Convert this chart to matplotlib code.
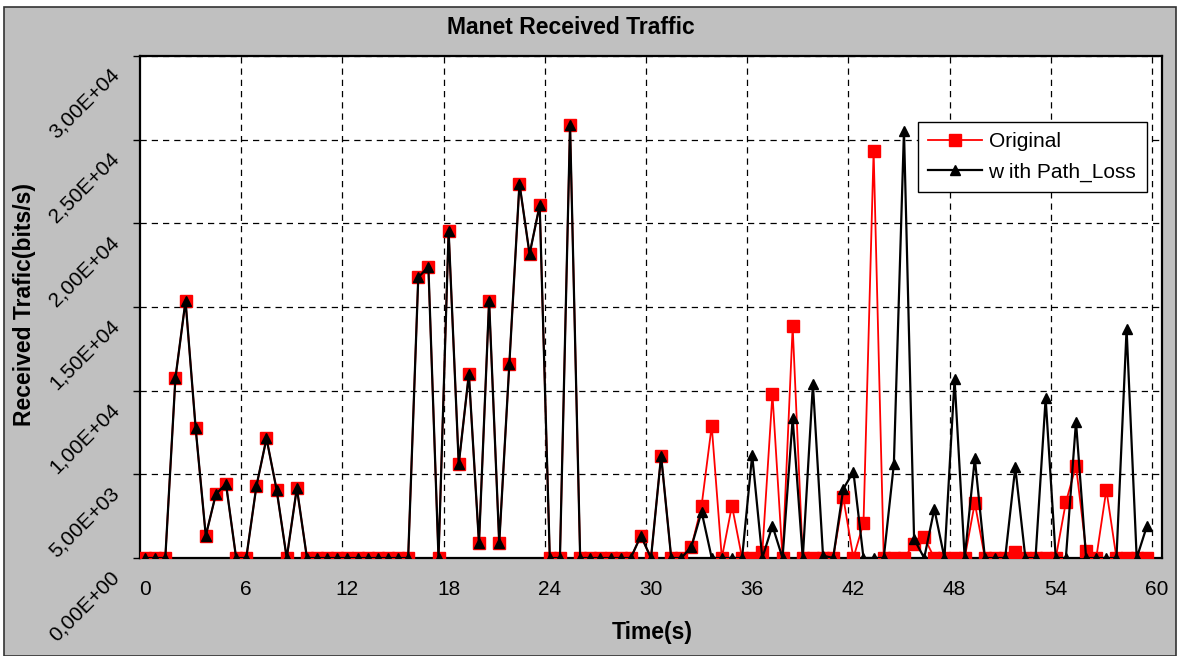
import matplotlib.pyplot as plt
from matplotlib.patches import Rectangle
from matplotlib.transforms import ScaledTranslation

plt.rcParams['font.family'] = ['Liberation Sans', 'DejaVu Sans']

# data ---------------------------------
time_s = [round(0.6 * i, 1) for i in range(100)]

original = [0, 0, 0, 10750, 15370, 7750, 1330, 3820, 4420, 0,
            0, 4280, 7150, 4080, 0, 4180, 0, 0, 0, 0,
            0, 0, 0, 0, 0, 0, 0, 16770, 17400, 0,
            19550, 5600, 11000, 880, 15370, 880, 11590, 22380, 18160, 21090,
            0, 0, 25870, 0, 0, 0, 0, 0, 0, 1330,
            0, 6110, 0, 0, 680, 3130, 7900, 0, 3130, 0,
            0, 340, 9800, 0, 13840, 0, 0, 0, 0, 3620,
            0, 2090, 24330, 0, 0, 0, 840, 1240, 0, 0,
            0, 0, 3290, 0, 0, 0, 340, 0, 0, 0,
            0, 3330, 5510, 440, 0, 4080, 0, 0, 0, 0]

path_loss = [0, 0, 0, 10750, 15370, 7750, 1330, 3820, 4420, 0,
             0, 4280, 7150, 4080, 0, 4180, 0, 0, 0, 0,
             0, 0, 0, 0, 0, 0, 0, 16770, 17400, 0,
             19550, 5600, 11000, 880, 15370, 880, 11590, 22380, 18160, 21090,
             0, 0, 25870, 0, 0, 0, 0, 0, 0, 1330,
             0, 6110, 0, 0, 680, 2770, 0, 0, 0, 0,
             6150, 0, 1930, 0, 8340, 0, 10390, 140, 0, 4120,
             5160, 0, 0, 0, 5600, 25530, 1130, 0, 2930, 0,
             10690, 0, 5950, 0, 0, 0, 5420, 0, 0, 9540,
             0, 0, 8140, 0, 0, 0, 0, 13680, 0, 1890]

x_ticks = [0, 6, 12, 18, 24, 30, 36, 42, 48, 54, 60]
x_grid = [5.7, 11.7, 17.7, 23.7, 29.7, 35.7, 41.7, 47.7, 53.7, 59.7]
y_ticks = [0, 5000, 10000, 15000, 20000, 25000, 30000]
y_labels = ["0,00E+00", "5,00E+03", "1,00E+04", "1,50E+04",
            "2,00E+04", "2,50E+04", "3,00E+04"]

# figure ---------------------------------
W, H = 1182, 656
fig = plt.figure(figsize=(W / 100, H / 100), dpi=100)
fig.patch.set_facecolor('white')
fig.patches.append(Rectangle((4 / W, 0), 1172 / W, 649 / H, transform=fig.transFigure,
                             facecolor='#C0C0C0', edgecolor='#333333', lw=1.2, zorder=-10))

ax = fig.add_axes([140 / W, 1 - 558 / H, 1022 / W, 502 / H])
ax.set_facecolor('white')

ax.plot(time_s, original, color='red', lw=1.3, marker='s', ms=8.5,
        mfc='red', mec='red', label='Original', zorder=3)
ax.plot(time_s, path_loss, color='black', lw=1.6, marker='^', ms=6.5,
        mfc='black', mec='black', label='w ith Path_Loss', zorder=4)

ax.set_xlim(-0.3, 60.3)
ax.set_ylim(0, 30000)
ax.set_xticks(x_ticks)
ax.set_xticks(x_grid, minor=True)
ax.set_yticks(y_ticks)
ax.set_yticklabels(y_labels)

ax.grid(which='minor', axis='x', color='black', ls=(0, (5, 4)), lw=0.9)
ax.grid(which='major', axis='y', color='black', ls=(0, (5, 4)), lw=0.9)
ax.grid(which='major', axis='x', visible=False)

ax.tick_params(axis='x', which='both', length=0, labelsize=15, pad=16)
ax.tick_params(axis='y', length=5, width=1, labelsize=15, pad=12)

for lbl in ax.get_yticklabels():
    lbl.set_rotation(45)
    lbl.set_ha('right')
    lbl.set_va('center')
    lbl.set_rotation_mode('anchor')
    lbl.set_transform(lbl.get_transform() + ScaledTranslation(0, -0.16, fig.dpi_scale_trans))

for s in ax.spines.values():
    s.set_linewidth(1.6)
    s.set_color('black')

fig.text(571 / W, 1 - 28 / H, 'Manet Received Traffic', ha='center', va='center',
         fontsize=16.5, fontweight='bold')
fig.text(652 / W, 1 - 632 / H, 'Time(s)', ha='center', va='center',
         fontsize=16.5, fontweight='bold')
fig.text(25 / W, 1 - 305 / H, 'Received Trafic(bits/s)', ha='center', va='center',
         rotation=90, fontsize=16.5, fontweight='bold')

leg = ax.legend(loc='upper right', bbox_to_anchor=(0.985, 0.869), borderaxespad=0,
                fancybox=False, framealpha=1, edgecolor='black', fontsize=15,
                numpoints=1, handlelength=2.6, handletextpad=0.3, labelspacing=0.55,
                borderpad=0.5)
leg.get_frame().set_linewidth(1.0)

fig.savefig('out.png', dpi=100)
